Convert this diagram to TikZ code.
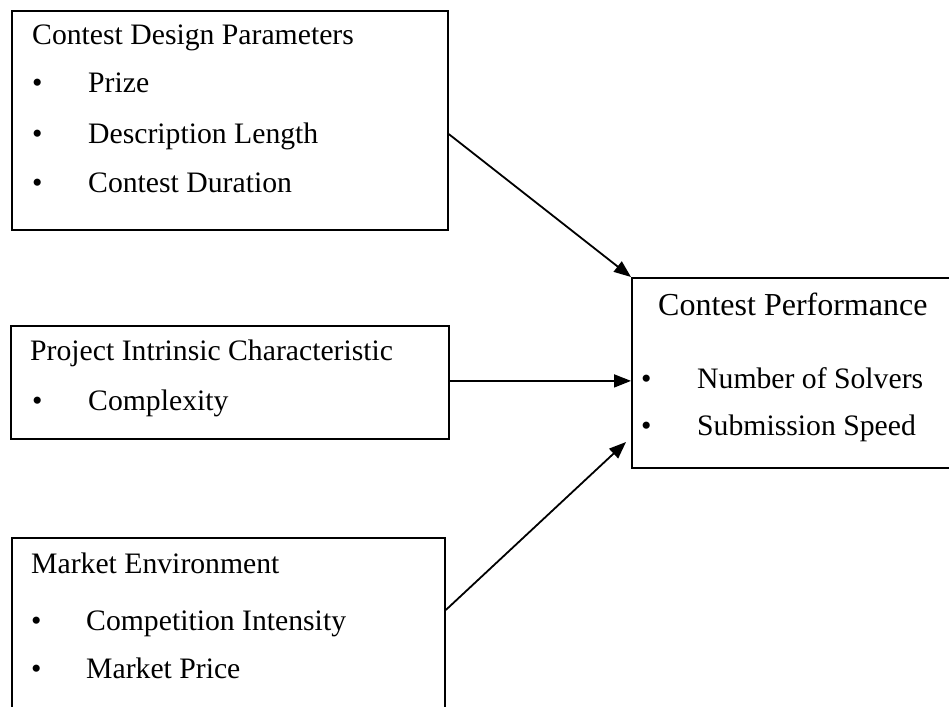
\documentclass[tikz,border=0pt]{standalone}
\usepackage{fontspec}
\setmainfont{Liberation Serif}
\usetikzlibrary{arrows.meta,calc}
\begin{document}
\begin{tikzpicture}[x=1pt,y=-1pt,
  frame/.style={draw, line width=1.8pt, anchor=north west, inner sep=0pt},
  txt/.style={anchor=base west, inner sep=0pt, font=\fontsize{29.7}{34}\selectfont},
  big/.style={txt, font=\fontsize{32}{36}\selectfont},
  link/.style={line width=1.8pt, -{Triangle[length=17pt,width=13pt]}}]
\useasboundingbox (0,0) rectangle (949,706);
\clip (0,0) rectangle (949,706);

% factor boxes
\node[frame, minimum width=436pt, minimum height=219pt] (design) at (11,10) {};
\node[frame, minimum width=438pt, minimum height=113pt] (project) at (10,325) {};
\node[frame, minimum width=433pt, minimum height=200pt] (market) at (11,537) {};
% outcome box
\node[frame, minimum width=340pt, minimum height=190pt] (perf) at (631,277) {};

% Contest Design Parameters
\node[txt] (dT) at (32,45) {Contest Design Parameters};
\node[txt] (dB1) at (32,93) {\textbullet};
\node[txt] (dI1) at (88,93) {Prize};
\node[txt] (dB2) at (32,143) {\textbullet};
\node[txt] (dI2) at (88,143) {Description Length};
\node[txt] (dB3) at (32,192) {\textbullet};
\node[txt] (dI3) at (88,192) {Contest Duration};

% Project Intrinsic Characteristic
\node[txt] (pT) at (30,360) {Project Intrinsic Characteristic};
\node[txt] (pB1) at (32,410) {\textbullet};
\node[txt] (pI1) at (88,410) {Complexity};

% Market Environment
\node[txt] (mT) at (31,573) {Market Environment};
\node[txt] (mB1) at (31,630) {\textbullet};
\node[txt] (mI1) at (86,630) {Competition Intensity};
\node[txt] (mB2) at (31,678) {\textbullet};
\node[txt] (mI2) at (86,678) {Market Price};

% Contest Performance
\node[big] (cT) at (658,315) {Contest Performance};
\node[txt] (cB1) at (641,388) {\textbullet};
\node[txt] (cI1) at (697,388) {Number of Solvers};
\node[txt] (cB2) at (641,435) {\textbullet};
\node[txt] (cI2) at (697,435) {Submission Speed};

% connectors
\coordinate (s1) at ($(design.north east)!0.562!(design.south east)$);
\coordinate (s2) at ($(project.north east)!0.487!(project.south east)$);
\coordinate (s3) at ($(market.north east)+(0,73)$);
\coordinate (e3) at ($(perf.north west)+(-5,165)$);
\draw[link] (s1) -- (perf.north west);
\draw[link] (s2) -- (s2 -| perf.west);
\draw[link] (s3) -- (e3);
\end{tikzpicture}
\end{document}
